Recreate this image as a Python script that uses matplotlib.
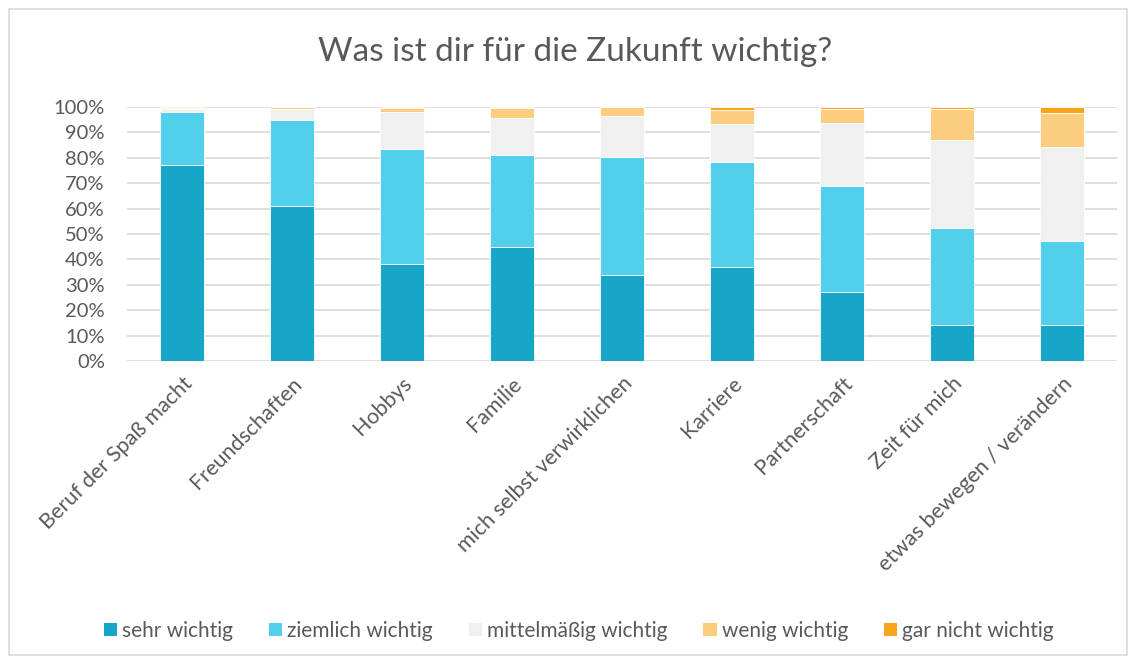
import matplotlib.pyplot as plt
import numpy as np
from matplotlib.patches import Rectangle
from matplotlib.ticker import PercentFormatter

categories = ["Beruf der Spaß macht", "Freundschaften", "Hobbys", "Familie",
              "mich selbst verwirklichen", "Karriere", "Partnerschaft",
              "Zeit für mich", "etwas bewegen / verändern"]
series_names = ["sehr wichtig", "ziemlich wichtig", "mittelmäßig wichtig",
                "wenig wichtig", "gar nicht wichtig"]

sehr = [77.0, 61.0, 38.0, 45.0, 34.0, 37.0, 27.2, 14.0, 14.0]
ziemlich = [21.0, 34.0, 45.4, 36.0, 46.3, 41.3, 41.8, 38.2, 33.3]
mittel = [1.2, 4.2, 14.7, 14.8, 16.2, 14.9, 24.7, 34.8, 36.8]
wenig = [0.5, 0.8, 1.5, 3.6, 3.3, 5.6, 5.4, 12.2, 13.5]
gar_nicht = [0.3, 0.0, 0.4, 0.6, 0.2, 1.2, 0.8, 0.8, 2.4]

colors = ["#17A5C8", "#52CFEA", "#F0F0F0", "#FBCD7E", "#F8A51B"]
text_col = "#595959"

plt.rcParams['font.family'] = ['Lato', 'DejaVu Sans']


def main():
	fig = plt.figure(figsize=(11.35, 6.64), dpi=100)
	ax = fig.add_axes([0.1119, 0.4563, 0.8722, 0.3826])

	x = np.arange(len(categories))
	bottom = np.zeros(len(categories))
	for name, vals, col in zip(series_names,
	                           [sehr, ziemlich, mittel, wenig, gar_nicht], colors):
		vals = np.array(vals)
		ax.bar(x, vals, 0.4, bottom=bottom, color=col, label=name,
		       edgecolor="white", linewidth=0.6, zorder=3)
		bottom += vals

	ax.set_xlim(-0.5, len(categories) - 0.5)
	ax.set_ylim(0, 100)
	ax.set_yticks(np.arange(0, 101, 10))
	ax.yaxis.set_major_formatter(PercentFormatter(decimals=0))
	ax.grid(axis="y", color="#D9D9D9", linewidth=1.2, zorder=0)
	for s in ax.spines.values():
		s.set_visible(False)
	ax.tick_params(length=0, colors=text_col, labelsize=14.5)
	ax.tick_params(axis="y", pad=16)
	ax.set_xticks(x)
	ax.set_xticklabels(categories, rotation=45, ha="right",
	                   rotation_mode="anchor", fontsize=15.5, color=text_col)
	ax.tick_params(axis="x", pad=9)

	fig.text(0.507, 0.922, "Was ist dir für die Zukunft wichtig?",
	         ha="center", va="center", fontsize=24, color=text_col)

	handles, labels = ax.get_legend_handles_labels()
	leg = fig.legend(handles, labels, loc="center", bbox_to_anchor=(0.51, 0.05),
	                 ncol=5, frameon=False, fontsize=15, handlelength=0.65,
	                 handleheight=0.65, handletextpad=0.25, columnspacing=1.7)
	for t in leg.get_texts():
		t.set_color(text_col)
	for h in leg.legend_handles:
		h.set_edgecolor("none")

	fig.patches.append(Rectangle((0.008, 0.013), 0.985, 0.974,
	                             transform=fig.transFigure, fill=False,
	                             edgecolor="#D9D9D9", linewidth=1.2))

	fig.savefig("out.png", dpi=100)


if __name__ == '__main__':
	main()
